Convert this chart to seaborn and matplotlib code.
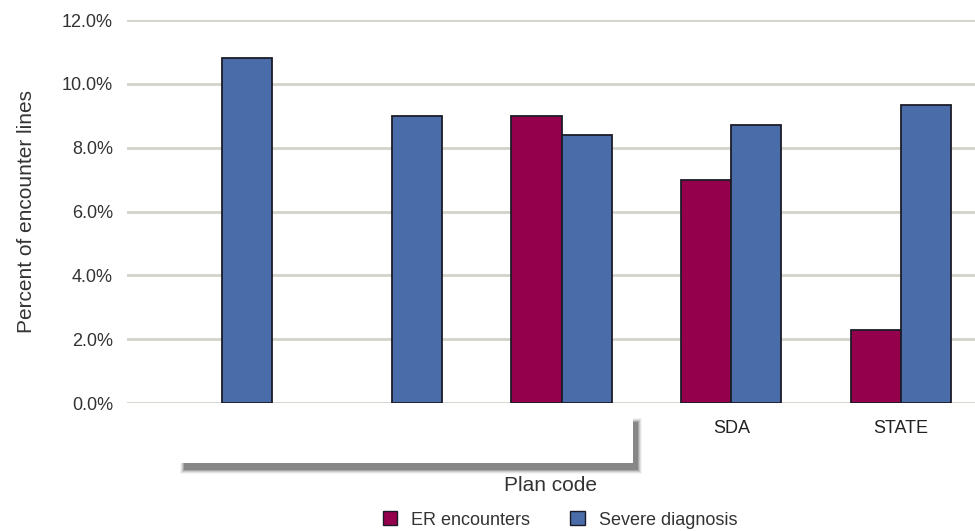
import matplotlib
matplotlib.use("Agg")
import matplotlib.pyplot as plt
from matplotlib.patches import Rectangle, Patch
import numpy as np
import pandas as pd
import seaborn as sns

# data (percent of encounter lines)
plan_codes = ["Plan 1", "Plan 2", "Plan 3", "SDA", "STATE"]
tick_labels = ["", "", "", "SDA", "STATE"]
er_encounters = [np.nan, np.nan, 9.0, 7.0, 2.3]
severe_diagnosis = [10.8, 9.0, 8.4, 8.7, 9.35]
series_names = ["ER encounters", "Severe diagnosis"]
series_colors = ["#94004B", "#4A6CA8"]

df = pd.DataFrame({
    "plan": plan_codes * 2,
    "series": [series_names[0]] * 5 + [series_names[1]] * 5,
    "pct": er_encounters + severe_diagnosis,
})

sns.set_style("white")
plt.rcParams["font.family"] = ["Liberation Sans", "DejaVu Sans"]

W, H = 975, 531
fig = plt.figure(figsize=(W / 100, H / 100), dpi=100)
ax = fig.add_axes([127 / W, 1 - 403 / H, 848 / W, 383 / H])

sns.barplot(data=df, x="plan", y="pct", hue="series", order=plan_codes,
            hue_order=series_names, palette=series_colors, width=0.59,
            edgecolor="#1c1c28", linewidth=1.3, saturation=1, ax=ax,
            legend=False, errorbar=None, zorder=3)

ax.set_ylim(0, 12)
ax.set_yticks(np.arange(0, 12.1, 2))
ax.set_yticklabels([f"{v:.1f}%" for v in np.arange(0, 12.1, 2)])
ax.set_xlim(-0.56, 4.436)
ax.set_xticks(range(len(plan_codes)))
ax.set_xticklabels(tick_labels)
ax.yaxis.grid(True, color="#d2d3c9", linewidth=2, zorder=0)
ax.set_axisbelow(True)
for s in ax.spines.values():
    s.set_visible(False)
ax.tick_params(axis="y", length=0, pad=10, labelsize=13, labelcolor="#333333")
ax.tick_params(axis="x", length=0, pad=12, labelsize=13, labelcolor="#222222")
ax.set_xlabel("Plan code", fontsize=15, color="#333333", labelpad=28)
ax.set_ylabel("Percent of encounter lines", fontsize=15, color="#333333", labelpad=19)

# white box with soft drop shadow covering the first plan labels
for i, a in enumerate([0.06, 0.10, 0.16, 0.24, 0.32]):
    off = 4 - i
    fig.patches.append(Rectangle(((184 - off) / W, 1 - (470 + off) / H),
                                 (454 + 2 * off) / W, (48 + 2 * off) / H,
                                 transform=fig.transFigure, facecolor="#444444",
                                 edgecolor="none", alpha=a, zorder=5))
fig.patches.append(Rectangle((176 / W, 1 - 463 / H), 457 / W, 48 / H,
                             transform=fig.transFigure, facecolor="white",
                             edgecolor="none", zorder=6))

handles = [Patch(facecolor=c, edgecolor="#1c1c28", linewidth=1.0) for c in series_colors]
fig.legend(handles, series_names, loc="center", bbox_to_anchor=(560 / W, 1 - 520 / H),
           ncol=2, frameon=False, fontsize=13, handlelength=0.8, handleheight=0.8,
           handletextpad=0.8, columnspacing=2.2, labelcolor="#333333")

fig.savefig("out.png", dpi=100)
